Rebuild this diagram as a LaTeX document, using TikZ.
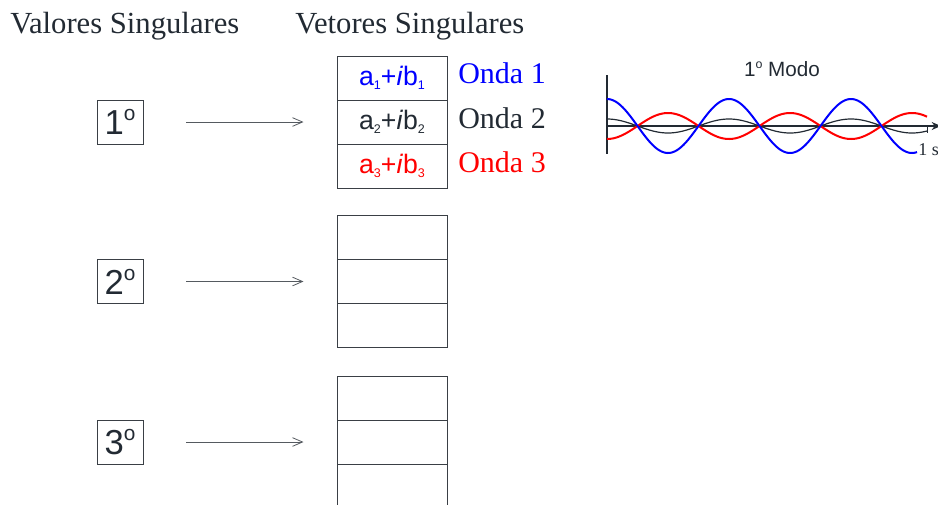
\documentclass[tikz,border=0pt]{standalone}
\usepackage{fontspec}
\usepackage{graphicx}
\setmainfont{Liberation Serif}
\setsansfont{Liberation Sans}
\usetikzlibrary{arrows.meta}
\definecolor{ink}{HTML}{222A33}
\definecolor{linegray}{HTML}{3A3F45}
\definecolor{arrgray}{HTML}{555A60}
\definecolor{wblue}{HTML}{0000FF}
\definecolor{wred}{HTML}{FF0000}
\newcommand{\ordo}{\raisebox{0.40em}{\scalebox{0.6}{o}}}
\newcommand{\sbs}[1]{\raisebox{-0.14em}{\scalebox{0.47}{#1}}}
\begin{document}
\begin{tikzpicture}[x=0.75pt,y=-0.75pt,
 title/.style={font=\fontsize{23}{27}\selectfont, text=ink, inner sep=0, anchor=base west},
 numbox/.style={draw=linegray, line width=0.75pt, minimum width=34.5pt, minimum height=33pt, inner sep=0, font=\sffamily\fontsize{26}{30}\selectfont, text=ink},
 cell/.style={draw=linegray, line width=0.75pt, minimum width=82.5pt, minimum height=33pt, inner sep=0, font=\sffamily\fontsize{20}{24}\selectfont},
 onda/.style={font=\fontsize{22.5}{26}\selectfont, inner sep=0, anchor=base west},
 pointer/.style={draw=arrgray, line width=0.6pt, -{Straight Barb[length=7.5pt,width=6.5pt,line width=0.6pt]}, shorten <=32pt, shorten >=24.75pt},
 axis/.style={draw=ink, line width=1.1pt},
 ]
\useasboundingbox (0,0) rectangle (938,504);

% headings
\node[title] (hval) at (10,33) {Valores Singulares};
\node[title] (hvet) at (295,33) {Vetores Singulares};

% number boxes
\node[numbox] (n1) at (120,122) {1\ordo};
\node[numbox] (n2) at (120,281.5) {2\ordo};
\node[numbox] (n3) at (120,442) {3\ordo};

% cells group 1
\node[cell, text=wblue] (c11) at (392,78) {a\sbs{1}+\textit{i}b\sbs{1}};
\node[cell, text=ink] (c12) at (392,122) {a\sbs{2}+\textit{i}b\sbs{2}};
\node[cell, text=wred] (c13) at (392,166) {a\sbs{3}+\textit{i}b\sbs{3}};
% cells group 2
\node[cell] (c21) at (392,237.5) {};
\node[cell] (c22) at (392,281.5) {};
\node[cell] (c23) at (392,325.5) {};
% cells group 3
\node[cell] (c31) at (392,398) {};
\node[cell] (c32) at (392,442) {};
\node[cell] (c33) at (392,486) {};

% onda labels
\node[onda, text=wblue] (o1) at (458,83) {Onda 1};
\node[onda, text=ink] (o2) at (458,128) {Onda 2};
\node[onda, text=wred] (o3) at (458,172) {Onda 3};

% arrows
\draw[pointer] (n1) -- (c12);
\draw[pointer] (n2) -- (c22);
\draw[pointer] (n3) -- (c32);

% wave plot
\node[font=\sffamily\fontsize{15.5}{18}\selectfont, text=ink, inner sep=0] (modo) at (782,69) {1\ordo{} Modo};
\coordinate (org) at (607,126);
\coordinate (ytop) at (607,75);
\coordinate (ybot) at (607,154);
\coordinate (xend) at (941,126);
\coordinate (tick) at (927,126);
\draw[axis] (ytop) -- (ybot);
\draw[axis, -{Stealth[length=7pt,width=6pt]}] (org) -- (xend);
\draw[ink, line width=0.6pt] (tick) -- ++(0,7);
\node[font=\fontsize{13.5}{16}\selectfont, text=ink, inner sep=0, anchor=base west] (unit) at (918,155) {1 s};
\draw[ink, line width=0.9pt, domain=607:927, samples=200, smooth] plot (\x, {126-7*cos((\x-607)*2.95082)});
\draw[wred, line width=1.5pt, domain=607:927, samples=200, smooth] plot (\x, {126+13*cos((\x-607)*2.95082)});
\draw[wblue, line width=1.5pt, domain=607:917, samples=200, smooth] plot (\x, {126-27*cos((\x-607)*2.95082)});
\end{tikzpicture}
\end{document}
